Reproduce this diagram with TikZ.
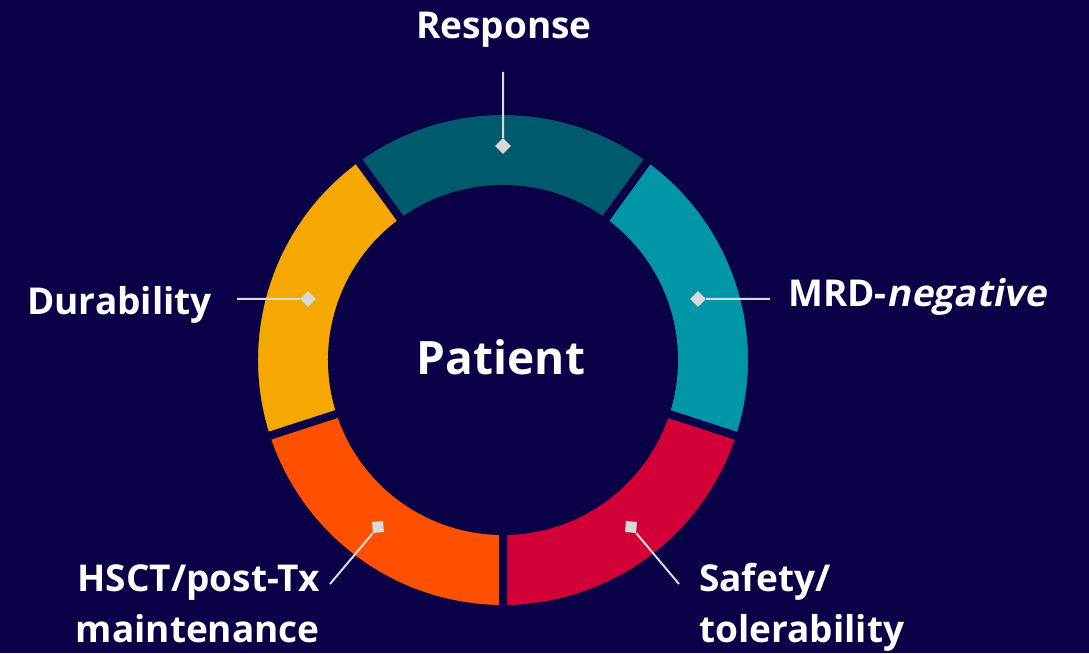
\documentclass[tikz,border=0pt]{standalone}
\usepackage{fontspec}
\setmainfont{Open Sans}
\newfontfamily\slantfont[FakeSlant=0.2]{Open Sans}
\definecolor{navy}{RGB}{10,0,72}
\definecolor{respcol}{RGB}{0,90,110}
\definecolor{mrdcol}{RGB}{0,150,170}
\definecolor{safecol}{RGB}{210,0,55}
\definecolor{hsctcol}{RGB}{255,80,0}
\definecolor{duracol}{RGB}{245,168,0}
\definecolor{leadgray}{RGB}{217,217,217}

\begin{document}
\begin{tikzpicture}[x=1pt, y=1pt, text=white,
    font=\bfseries\fontsize{37}{48}\selectfont,
    lbl/.style={inner sep=0pt},
    lead/.style={draw=leadgray, line width=2pt},
    marker/.style={fill=leadgray, minimum size=11pt, inner sep=0pt}]
  \useasboundingbox (0,0) rectangle (1089,653);
  \fill[navy] (0,0) rectangle (1089,653);
  \coordinate (c) at (503,293);

  % ring segments, 72 degrees each
  \begin{scope}[shift={(c)}]
    \foreach \a/\col in {270/safecol, 342/mrdcol, 54/respcol, 126/duracol, 198/hsctcol} {
      \pgfmathsetmacro\b{\a+72}
      \filldraw[fill=\col, draw=navy, line width=8pt]
        (\a:249) arc[start angle=\a, end angle=\b, radius=249]
        -- (\b:171) arc[start angle=\b, end angle=\a, radius=171] -- cycle;
    }
  \end{scope}

  \node[font=\bfseries\fontsize{46}{50}\selectfont, anchor=base] (pat) at (501,278) {Patient};

  % labels
  \node[lbl, anchor=base] (resp) at (504,614) {Response};
  \node[lbl, anchor=base east] (dura) at (212,338) {Durability};
  \node[lbl, anchor=base west] (mrd) at (788,346) {MRD-{\slantfont negative}};
  \node[lbl, anchor=base east, align=right] (hsct) at (320,11) {HSCT/post-Tx\\[3pt]maintenance};
  \node[lbl, anchor=base west, align=left] (safe) at (699,11) {Safety/\\[3pt]tolerability};

  % pointers
  \node[marker, rotate=45] (resp-m) at (503,507) {};
  \coordinate (resp-a) at (503,581);
  \draw[lead] (resp-a) -- (resp-m);

  \node[marker, rotate=45] (dura-m) at (308,354) {};
  \coordinate (dura-a) at (237,354);
  \draw[lead] (dura-a) -- (dura-m);

  \node[marker, rotate=45] (mrd-m) at (698,354) {};
  \coordinate (mrd-a) at (770,354);
  \draw[lead] (mrd-a) -- (mrd-m);

  \node[marker, rotate=95] (hsct-m) at (378,126) {};
  \coordinate (hsct-a) at (330,69);
  \draw[lead] (hsct-a) -- (hsct-m);

  \node[marker, rotate=175] (safe-m) at (631,126) {};
  \coordinate (safe-a) at (679,69);
  \draw[lead] (safe-a) -- (safe-m);
\end{tikzpicture}
\end{document}
